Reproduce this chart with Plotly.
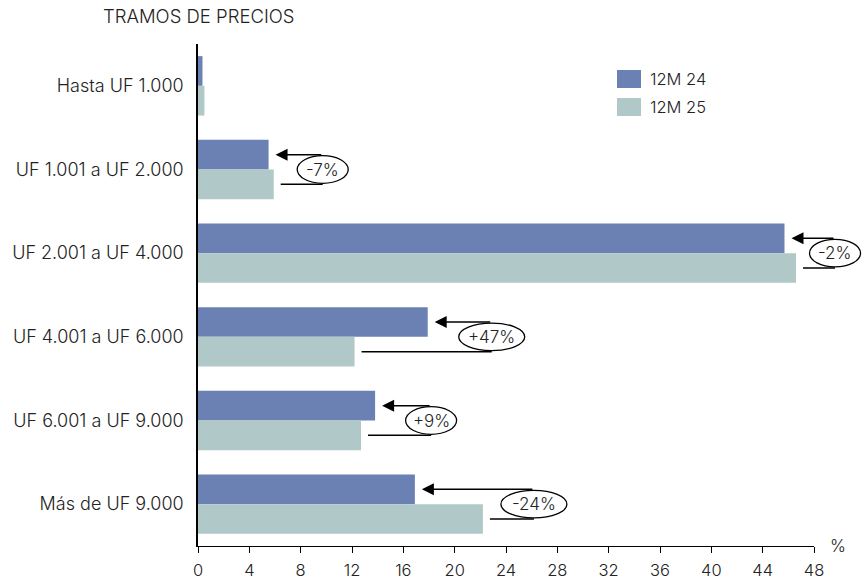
import plotly.graph_objects as go

categories = ["Hasta UF 1.000", "UF 1.001 a UF 2.000", "UF 2.001 a UF 4.000",
              "UF 4.001 a UF 6.000", "UF 6.001 a UF 9.000", "Más de UF 9.000"]
series_names = ["12M 24", "12M 25"]
values_12m24 = [0.35, 5.5, 45.7, 17.9, 13.8, 16.9]
values_12m25 = [0.5, 5.9, 46.6, 12.2, 12.7, 22.2]
change_labels = [None, "-7%", "-2%", "+47%", "+9%", "-24%"]
x_ticks = list(range(0, 49, 4))

# style / layout settings
C24 = "#6b80b3"
C25 = "#b1c8c8"
FONT = "Inter"
FW = 300
FS = 17
TXT = "#222222"
W, H = 863, 581
ML, MR, MT, MB = 198, 49, 44, 35
XMAX = 48.0
PW, PH = W - ML - MR, H - MT - MB
PX_PER_UNIT = PW / XMAX
NCAT = len(categories)
BARGAP = 0.29
OFF = (1 - BARGAP) / 4.0                   # bar center offset within a band
LABEL_SHIFT_PX = [0, 49, 39, 64, 56, 51]   # ellipse center right of longer bar
GAP_PX = 7


def xp(v):
    return v / XMAX


def yp(idx):
    # category index (reversed axis, top = 0) -> paper
    return 1 - (idx + 0.5) / NCAT


fnt = dict(family=FONT, size=FS, color=TXT, weight=FW)

fig = go.Figure()
fig.add_trace(go.Bar(y=categories, x=values_12m24, name=series_names[0],
                     orientation="h", marker=dict(color=C24, line=dict(width=0))))
fig.add_trace(go.Bar(y=categories, x=values_12m25, name=series_names[1],
                     orientation="h", marker=dict(color=C25, line=dict(width=0))))

shapes = []
annotations = []
for i, lab in enumerate(change_labels):
    if lab is None:
        continue
    v24, v25 = values_12m24[i], values_12m25[i]
    cx = max(v24, v25) + LABEL_SHIFT_PX[i] / PX_PER_UNIT
    gap = GAP_PX / PX_PER_UNIT
    shapes.append(dict(type="line", xref="paper", yref="paper",
                       x0=xp(v25 + gap), x1=xp(cx), y0=yp(i + OFF), y1=yp(i + OFF),
                       line=dict(color="black", width=1.5), layer="above"))
    wpx = 6 + 15 * len(lab)
    hw = wpx / 2 / PX_PER_UNIT
    shapes.append(dict(type="circle", xref="paper", yref="paper",
                       x0=xp(cx - hw), x1=xp(cx + hw), y0=yp(i - 0.165), y1=yp(i + 0.165),
                       line=dict(color="black", width=1.3), fillcolor="white",
                       layer="above"))
    annotations.append(dict(x=xp(v24 + gap), y=yp(i - OFF), xref="paper", yref="paper",
                            ax=(cx - v24 - gap) * PX_PER_UNIT, ay=0,
                            axref="pixel", ayref="pixel",
                            text="", showarrow=True, arrowhead=2, arrowsize=1.6,
                            arrowwidth=1.5, arrowcolor="black", standoff=0))
    annotations.append(dict(x=xp(cx), y=yp(i), xref="paper", yref="paper", text=lab,
                            xanchor="center", yanchor="middle",
                            showarrow=False, font=fnt))


def px_to_paper_x(px):
    return (px - ML) / PW


def px_to_paper_y(py):
    return (H - MB - py) / PH


for name, col, (y0, y1) in zip(series_names, [C24, C25], [(70, 88), (98, 116)]):
    shapes.append(dict(type="rect", xref="paper", yref="paper",
                       x0=px_to_paper_x(617), x1=px_to_paper_x(641),
                       y0=px_to_paper_y(y1), y1=px_to_paper_y(y0),
                       fillcolor=col, line=dict(width=0)))
    annotations.append(dict(x=px_to_paper_x(648), y=px_to_paper_y((y0 + y1) / 2),
                            xref="paper", yref="paper", text=name, showarrow=False,
                            xanchor="left", yanchor="middle",
                            font=dict(family=FONT, size=16.5, color=TXT, weight=FW)))

annotations.append(dict(x=1, y=0, xref="paper", yref="paper", text="%", showarrow=False,
                        xanchor="center", yanchor="middle", xshift=24, yshift=0,
                        font=fnt))

fig.update_layout(
    width=W, height=H,
    margin=dict(l=ML, r=MR, t=MT, b=MB, pad=0, autoexpand=False),
    paper_bgcolor="white", plot_bgcolor="white",
    barmode="group", bargap=BARGAP, bargroupgap=0,
    showlegend=False,
    font=fnt,
    title=dict(text="TRAMOS DE PRECIOS", x=103 / W, xanchor="left",
               y=1 - 17 / H, yanchor="middle", xref="container", yref="container",
               font=dict(family=FONT, size=18.5, color=TXT, weight=FW)),
    xaxis=dict(range=[0, XMAX], tickvals=x_ticks, ticktext=[str(t) for t in x_ticks],
               showgrid=False, zeroline=False, showline=True, linecolor="black",
               linewidth=1, ticks="outside", ticklen=6, tickcolor="black",
               ticklabelstandoff=3, tickfont=dict(family=FONT, size=16.5, color=TXT, weight=FW),
               fixedrange=True, automargin=False),
    yaxis=dict(categoryorder="array", categoryarray=categories,
               autorange="reversed", showgrid=False, zeroline=False,
               showline=True, linecolor="black", linewidth=1.5, ticks="",
               ticklabelstandoff=9, tickfont=dict(family=FONT, size=18, color=TXT, weight=FW),
               fixedrange=True, automargin=False),
    shapes=shapes, annotations=annotations,
)

fig.write_html("out.html")
